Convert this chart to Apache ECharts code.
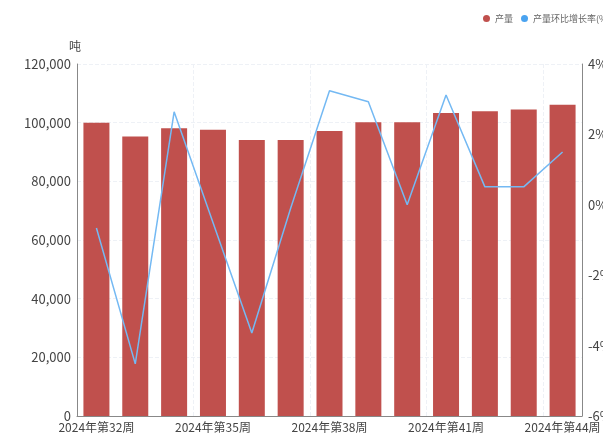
<!DOCTYPE html>
<html lang="zh-CN" style="height: 100%">
<head>
  <meta charset="utf-8">
</head>
<body style="height: 100%; margin: 0">
  <div id="container" style="height: 100%"></div>

  <script type="text/javascript" src="https://fastly.jsdelivr.net/npm/echarts@6/dist/echarts.min.js"></script>
  <script type="text/javascript">
    var weeks = ['2024年第32周', '2024年第33周', '2024年第34周', '2024年第35周', '2024年第36周',
      '2024年第37周', '2024年第38周', '2024年第39周', '2024年第40周', '2024年第41周',
      '2024年第42周', '2024年第43周', '2024年第44周'];
    // 产量（吨）
    var output = [100000, 95300, 98100, 97600, 94100, 94100, 97200, 100100, 100100, 103300, 103900, 104500, 106100];
    // 产量环比增长率(%)
    var growth = [-0.66, -4.52, 2.64, -0.5, -3.64, -0.1, 3.24, 2.93, 0.0, 3.12, 0.51, 0.51, 1.5];

    var dom = document.getElementById('container');
    var myChart = echarts.init(dom, null, { renderer: 'canvas' });
    var option = {
      animation: false,
      textStyle: { fontFamily: '"Noto Sans CJK SC", "Noto Sans", sans-serif' },
      legend: {
        top: 9,
        left: 478,
        width: 300,
        orient: 'horizontal',
        itemWidth: 7,
        itemHeight: 7,
        itemGap: 8,
        icon: 'circle',
        textStyle: { fontSize: 9, color: '#666' },
        data: ['产量', '产量环比增长率(%)']
      },
      grid: { left: 77, right: 21, top: 64, bottom: 19, outerBoundsMode: 'none' },
      xAxis: {
        type: 'category',
        data: weeks,
        axisLine: { lineStyle: { color: '#888' } },
        axisTick: { show: false },
        axisLabel: { interval: 2, color: '#444', fontSize: 12, margin: 5 },
        splitLine: { show: true, interval: 2, lineStyle: { color: '#eef1f6', type: 'dashed' } }
      },
      yAxis: [
        {
          type: 'value',
          name: '吨',
          nameGap: 12,
          nameTextStyle: { color: '#444', fontSize: 12, align: 'right', padding: [0, -4, 0, 0] },
          min: 0,
          max: 120000,
          interval: 20000,
          axisLine: { show: true, lineStyle: { color: '#888' } },
          axisLabel: {
            color: '#444', fontSize: 13, margin: 6,
            formatter: function (v) { return v.toLocaleString('en-US'); }
          },
          splitLine: { lineStyle: { color: '#eef1f6', type: 'dashed' } }
        },
        {
          type: 'value',
          min: -6,
          max: 4,
          interval: 2,
          axisLine: { show: true, lineStyle: { color: '#888' } },
          axisLabel: { color: '#444', fontSize: 13, margin: 6, formatter: '{value}%' },
          splitLine: { show: false }
        }
      ],
      series: [
        {
          name: '产量',
          type: 'bar',
          data: output,
          barWidth: 26,
          itemStyle: { color: '#c0504d' }
        },
        {
          name: '产量环比增长率(%)',
          type: 'line',
          yAxisIndex: 1,
          data: growth,
          showSymbol: false,
          symbol: 'circle',
          lineStyle: { color: '#74b9f3', width: 1.5 },
          itemStyle: { color: '#4aa3f0' }
        }
      ]
    };
    myChart.setOption(option);
    window.addEventListener('resize', myChart.resize);
  </script>
</body>
</html>
